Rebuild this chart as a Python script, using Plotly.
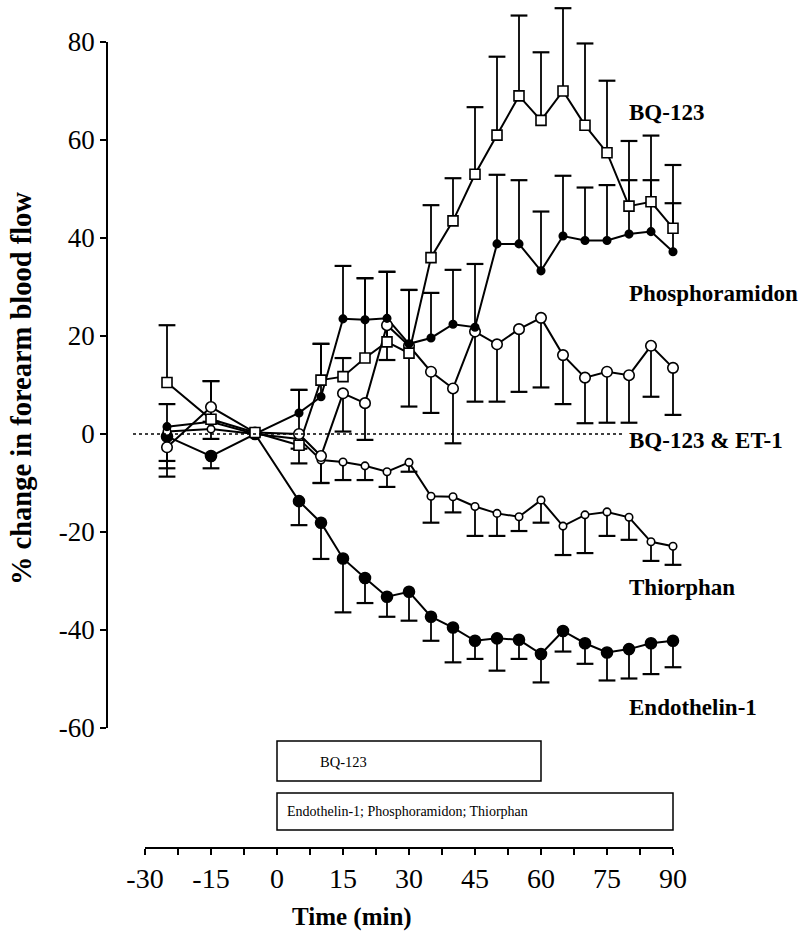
import plotly.graph_objects as go

# ---------------- data ----------------
times = [-25, -15, -5, 5, 10, 15, 20, 25, 30, 35, 40, 45, 50, 55, 60, 65, 70, 75, 80, 85, 90]

bq_vals = [10.5, 3.0, 0.3, -2.3, 11.0, 11.7, 15.5, 18.8, 16.5, 36.0, 43.5, 53.0, 61.0, 69.0, 64.0, 70.0, 63.0, 57.4, 46.5, 47.4, 42.0]
bq_err = [11.7, 7.8, 0, 11.3, 7.4, 3.8, 16.3, 14.3, 12.9, 10.7, 8.7, 13.7, 16.0, 16.4, 13.9, 16.9, 16.7, 14.7, 13.3, 13.5, 12.9]

ph_vals = [1.5, 2.5, 0.0, 4.3, 7.6, 23.5, 23.3, 23.6, 18.4, 19.6, 22.4, 21.8, 38.8, 38.8, 33.3, 40.4, 39.5, 39.5, 40.8, 41.3, 37.2]
ph_err = [4.6, 8.3, 0, 4.7, 10.8, 10.8, 8.5, 9.5, 11.0, 9.2, 11.1, 12.9, 14.1, 13.0, 12.1, 12.3, 10.8, 11.3, 11.0, 10.5, 9.9]

be_vals = [-2.7, 5.5, 0.3, 0.0, -4.5, 8.3, 6.3, 22.2, 18.0, 12.7, 9.3, 20.9, 18.3, 21.4, 23.7, 16.1, 11.5, 12.7, 12.0, 18.0, 13.5]
be_err = [4.3, 3.0, 0, 6.0, 5.5, 7.8, 7.5, 7.1, 12.4, 8.4, 11.2, 14.3, 11.7, 12.8, 14.2, 10.0, 9.3, 10.4, 9.7, 10.4, 9.6]

th_vals = [0.5, 1.0, 0.0, -1.0, -5.3, -5.7, -6.5, -7.7, -5.8, -12.7, -12.8, -14.8, -16.2, -16.9, -13.5, -18.8, -16.5, -15.9, -17.0, -22.0, -22.9]
th_err = [6.0, 2.0, 0, 2.0, 4.7, 3.7, 2.9, 3.1, 1.9, 5.4, 3.2, 6.0, 4.6, 2.9, 4.6, 5.9, 7.8, 4.9, 4.6, 3.9, 3.8]

et_vals = [-0.5, -4.5, 0.0, -13.7, -18.1, -25.4, -29.4, -33.2, -32.2, -37.3, -39.5, -42.2, -41.7, -42.0, -44.9, -40.2, -42.7, -44.6, -43.9, -42.7, -42.2]
et_err = [8.2, 2.5, 0, 4.9, 7.4, 11.0, 5.1, 4.1, 5.9, 4.9, 7.1, 3.7, 6.6, 3.9, 5.8, 4.2, 4.2, 5.7, 6.0, 6.3, 5.4]

series_labels = ["BQ-123", "Phosphoramidon", "BQ-123 & ET-1", "Thiorphan", "Endothelin-1"]
x_ticks = [-30, -15, 0, 15, 30, 45, 60, 75, 90]
y_ticks = [-60, -40, -20, 0, 20, 40, 60, 80]
bq_period = [0, 60]
other_period = [0, 90]
bq_box_text = "BQ-123"
other_box_text = "Endothelin-1; Phosphoramidon; Thiorphan"

# ---------------- layout constants (pixels) ----------------
W, H = 802, 936
X0PX, XPPM = 277.0, 4.4      # pixel of t=0, pixels per minute
Y0PX, YPPU = 434.0, 4.9      # pixel of 0 %, pixels per unit
XAX_L, XAX_R, XAX_Y = 145, 673, 848
YAX_X, YAX_T, YAX_B = 107, 42, 728
FONT = "Liberation Serif"


def px(xp):
    return xp / W


def py(yp):
    return 1 - yp / H


x_range = [(0 - X0PX) / XPPM, (W - X0PX) / XPPM]
y_range = [(Y0PX - H) / YPPU, (Y0PX - 0) / YPPU]

fig = go.Figure()

series = [
    # vals, err, direction, symbol, size, fill
    (et_vals, et_err, -1, "circle", 11, "black"),
    (th_vals, th_err, -1, "circle", 7.5, "white"),
    (be_vals, be_err, -1, "circle", 10.5, "white"),
    (ph_vals, ph_err, 1, "circle", 7.5, "black"),
    (bq_vals, bq_err, 1, "square", 10, "white"),
]

# lines + error stems
for vals, err, d, sym, size, fill in series:
    up = err if d > 0 else [0] * len(err)
    dn = err if d < 0 else [0] * len(err)
    fig.add_trace(go.Scatter(
        x=times, y=vals, mode="lines",
        line=dict(color="black", width=2),
        error_y=dict(type="data", symmetric=False, array=up, arrayminus=dn,
                     width=0, thickness=1.8, color="black"),
        showlegend=False, hoverinfo="skip"))
    cx = [t for t, e in zip(times, err) if e > 0]
    cy = [v + d * e for v, e in zip(vals, err) if e > 0]
    fig.add_trace(go.Scatter(
        x=cx, y=cy, mode="markers",
        marker=dict(symbol="line-ew", size=12, line=dict(width=2.2, color="black")),
        showlegend=False, hoverinfo="skip"))

# markers on top
for vals, err, d, sym, size, fill in series:
    fig.add_trace(go.Scatter(
        x=times, y=vals, mode="markers",
        marker=dict(symbol=sym, size=size, color=fill,
                    line=dict(color="black", width=1.6)),
        showlegend=False, hoverinfo="skip", cliponaxis=False))

# dummy trace for the visible axes
fig.add_trace(go.Scatter(x=[x_ticks[0], x_ticks[-1]], y=[y_ticks[0], y_ticks[-1]],
                         xaxis="x2", yaxis="y2", mode="markers",
                         marker=dict(opacity=0), showlegend=False, hoverinfo="skip"))

shapes = []
# zero reference line
shapes.append(dict(type="line", xref="paper", yref="y", x0=px(133), x1=px(625), y0=0, y1=0,
                   line=dict(color="black", width=1.3, dash="dot")))
# treatment boxes
shapes.append(dict(type="rect", xref="x", yref="paper", x0=bq_period[0], x1=bq_period[1],
                   y0=py(781), y1=py(741), line=dict(color="black", width=1.5)))
shapes.append(dict(type="rect", xref="x", yref="paper", x0=other_period[0], x1=other_period[1],
                   y0=py(830), y1=py(793), line=dict(color="black", width=1.5)))

annotations = []
label_y = [112, 293, 440, 587, 707]
for lab, yy in zip(series_labels, label_y):
    annotations.append(dict(text="<b>%s</b>" % lab, xref="paper", yref="paper",
                            x=px(627), y=py(yy), xanchor="left", yanchor="middle",
                            showarrow=False, font=dict(family=FONT, size=23, color="black")))
annotations.append(dict(text=bq_box_text, xref="paper", yref="paper", x=px(343), y=py(762),
                        xanchor="center", yanchor="middle", showarrow=False,
                        font=dict(family=FONT, size=14.5, color="black")))
annotations.append(dict(text=other_box_text, xref="paper", yref="paper", x=px(408), y=py(811),
                        xanchor="center", yanchor="middle", showarrow=False,
                        font=dict(family=FONT, size=14, color="black")))
annotations.append(dict(text="<b>Time (min)</b>", xref="paper", yref="paper", x=px(352), y=py(917),
                        xanchor="center", yanchor="middle", showarrow=False,
                        font=dict(family=FONT, size=25, color="black")))
annotations.append(dict(text="<b>% change in forearm blood flow</b>", xref="paper", yref="paper",
                        x=px(21), y=py(389), xanchor="center", yanchor="middle", textangle=-90,
                        showarrow=False, font=dict(family=FONT, size=28.5, color="black")))

fig.update_layout(
    template="none",
    width=W, height=H,
    margin=dict(l=0, r=0, t=0, b=0, pad=0, autoexpand=False),
    paper_bgcolor="white", plot_bgcolor="rgba(0,0,0,0)",
    showlegend=False,
    xaxis=dict(domain=[0, 1], range=x_range, visible=False, fixedrange=True, automargin=False),
    yaxis=dict(domain=[0, 1], range=y_range, visible=False, fixedrange=True, automargin=False),
    xaxis2=dict(domain=[px(XAX_L), px(XAX_R)], range=[x_ticks[0], x_ticks[-1]],
                anchor="free", position=py(XAX_Y), showgrid=False, zeroline=False,
                automargin=False,
                showline=True, linecolor="black", linewidth=1.5,
                tickmode="array", tickvals=x_ticks, ticktext=[str(v) for v in x_ticks],
                ticks="outside", ticklen=6, tickwidth=1.5, tickcolor="black",
                minor=dict(dtick=7.5, tick0=-30, ticks="outside", ticklen=6,
                           tickwidth=1.5, tickcolor="black", showgrid=False),
                tickfont=dict(family=FONT, size=28, color="black")),
    yaxis2=dict(domain=[py(YAX_B), py(YAX_T)], range=[y_ticks[0], y_ticks[-1]],
                anchor="free", position=px(YAX_X), showgrid=False, zeroline=False,
                automargin=False,
                showline=True, linecolor="black", linewidth=1.5,
                tickmode="array", tickvals=y_ticks, ticktext=[str(v) for v in y_ticks],
                ticks="outside", ticklen=6, tickwidth=1.5, tickcolor="black",
                tickfont=dict(family=FONT, size=27, color="black")),
    shapes=shapes,
    annotations=annotations,
)

fig.write_html("out.html")
